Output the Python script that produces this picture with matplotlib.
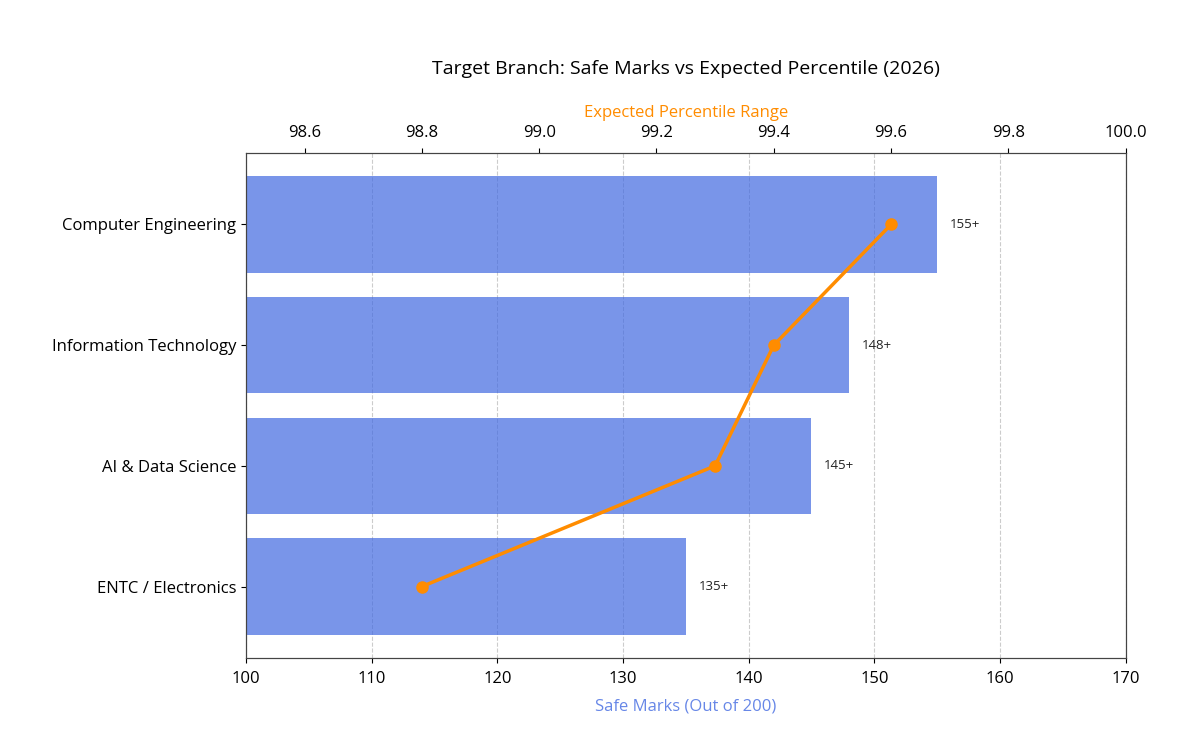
import matplotlib.pyplot as plt

plt.rcParams['font.family'] = ['Open Sans', 'DejaVu Sans']

branches = ['ENTC / Electronics', 'AI & Data Science', 'Information Technology', 'Computer Engineering']
safe_marks = [135, 145, 148, 155]
percentiles = [98.8, 99.3, 99.4, 99.6]
mark_labels = ['135+', '145+', '148+', '155+']

fig, ax = plt.subplots(figsize=(12, 7.3), dpi=100)
fig.subplots_adjust(left=0.205, right=0.938, top=0.79, bottom=0.099)

ypos = range(len(branches))
ax.barh(ypos, safe_marks, height=0.8, color='royalblue', alpha=0.7)
ax.set_yticks(list(ypos))
ax.set_yticklabels(branches, fontsize=12)
ax.set_xlim(100, 170)
ax.set_xlabel('Safe Marks (Out of 200)', color='royalblue', fontsize=12, alpha=0.8, labelpad=8)
ax.tick_params(axis='x', labelsize=12, pad=6)
ax.grid(axis='x', linestyle='--', color='#cccccc', linewidth=0.8)
ax.set_axisbelow(True)

for y, v, lab in zip(ypos, safe_marks, mark_labels):
    ax.text(v + 1, y, lab, va='center', ha='left', fontsize=9.5, color='#222222')

# percentile line on the top axis
ax2 = ax.twiny()
ax2.plot(percentiles, list(ypos), color='darkorange', marker='o', markersize=8, linewidth=2.5)
ax2.set_xlim(98.5, 100.0)
ax2.set_xticks([98.6, 98.8, 99.0, 99.2, 99.4, 99.6, 99.8, 100.0])
ax2.set_xticklabels(['98.6', '98.8', '99.0', '99.2', '99.4', '99.6', '99.8', '100.0'])
ax2.tick_params(axis='x', labelsize=12, pad=5)
ax2.set_xlabel('Expected Percentile Range', color='darkorange', fontsize=12, labelpad=6)

for a in (ax, ax2):
    for s in a.spines.values():
        s.set_color('#444444')

ax.set_title('Target Branch: Safe Marks vs Expected Percentile (2026)', fontsize=14, pad=57)

plt.savefig('out.png', dpi=100)
